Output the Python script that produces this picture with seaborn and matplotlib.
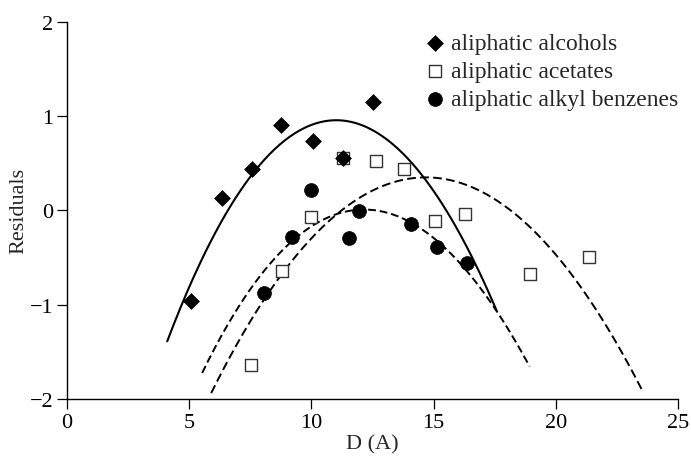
import numpy as np
import matplotlib
matplotlib.use("Agg")
import matplotlib.pyplot as plt
import seaborn as sns

# Points
alcohol_d = [5.08, 6.35, 7.58, 8.77, 10.08, 11.31, 12.54]
alcohol_r = [-0.96, 0.13, 0.44, 0.90, 0.74, 0.55, 1.15]

acetate_d = [7.54, 8.81, 10.0, 11.31, 12.66, 13.8, 15.04, 16.3, 18.93, 21.35]
acetate_r = [-1.64, -0.64, -0.07, 0.55, 0.52, 0.44, -0.11, -0.04, -0.67, -0.49]

benzene_d = [8.07, 9.22, 10.0, 11.56, 11.93, 14.06, 15.16, 16.39]
benzene_r = [-0.88, -0.28, 0.22, -0.29, -0.01, -0.14, -0.39, -0.56]

# Points
alcohol_fit_d = [4.1, 5.12, 5.82, 6.52, 7.34, 8.28, 9.51, 10.86, 11.15, 13.2, 14.71, 15.66, 16.6, 17.42, 17.58]
alcohol_fit_r = [-1.37, -0.80, -0.34, 0.01, 0.30, 0.57, 0.83, 0.96, 0.96, 0.75, 0.33, -0.10, -0.52, -0.97, -1.04]

acetate_fit_d = [5.9, 6.93, 7.87, 8.81, 9.63, 10.45, 11.43, 12.9, 14.43, 17.3, 18.52, 19.9, 21.27, 22.62, 23.57]
acetate_fit_r = [-1.98, -1.44, -0.97, -0.63, -0.38, -0.17, -0.02, 0.24, 0.33, 0.15, -0.10, -0.41, -0.87, -1.44, -1.97]

benzene_fit_d = [5.53, 6.1, 7.17, 8.28, 9.22, 10.6, 11.43, 12.79, 14.0, 15.16, 16.39, 17.58, 18.93]
benzene_fit_r = [-1.72, -1.44, -0.97, -0.59, -0.28, -0.10, 0.01, -0.01, -0.15, -0.39, -0.57, -1.05, -1.68]

labels = ["aliphatic alcohols", "aliphatic acetates", "aliphatic alkyl benzenes"]

sns.set_style("ticks")
plt.rcParams["font.family"] = ["Liberation Serif", "DejaVu Serif"]

fig, ax = plt.subplots(figsize=(6.91, 4.64), dpi=100)
fig.subplots_adjust(left=0.097, right=0.981, bottom=0.138, top=0.951)


def smooth(xs, ys, deg=3):
    # smooth the traced points with a low order polynomial
    coef = np.polyfit(xs, ys, deg)
    xx = np.linspace(min(xs), max(xs), 200)
    return xx, np.polyval(coef, xx)


xx, yy = smooth(alcohol_fit_d, alcohol_fit_r)
sns.lineplot(x=xx, y=yy, ax=ax, color="black", lw=1.5, sort=False)

xx, yy = smooth(acetate_fit_d, acetate_fit_r)
sns.lineplot(x=xx, y=yy, ax=ax, color="black", lw=1.4, sort=False)
ax.lines[-1].set_dashes([4.5, 2.2])

xx, yy = smooth(benzene_fit_d, benzene_fit_r)
sns.lineplot(x=xx, y=yy, ax=ax, color="black", lw=1.4, sort=False)
ax.lines[-1].set_dashes([4.0, 2.0])

# diamonds sit on top of the squares where they overlap
sns.scatterplot(x=alcohol_d, y=alcohol_r, ax=ax, marker="D", s=65,
                color="black", edgecolor="black", linewidth=0.5, label=labels[0], zorder=4)
sns.scatterplot(x=acetate_d, y=acetate_r, ax=ax, marker="s", s=85,
                facecolor="white", edgecolor="#333333", linewidth=1.0, label=labels[1], zorder=3)
sns.scatterplot(x=benzene_d, y=benzene_r, ax=ax, marker="o", s=100,
                color="black", edgecolor="black", linewidth=0.5, label=labels[2], zorder=3)

ax.set_xlim(0, 25)
ax.set_ylim(-2, 2)
ax.set_xticks([0, 5, 10, 15, 20, 25])
ax.set_yticks([-2, -1, 0, 1, 2])
ax.set_yticklabels(["\u22122", "\u22121", "0", "1", "2"])
ax.tick_params(direction="out", length=7, width=0.9, labelsize=16, pad=3, colors="black")
for side in ["left", "bottom"]:
    ax.spines[side].set_linewidth(1.0)
    ax.spines[side].set_color("black")
sns.despine(ax=ax)

ax.set_xlabel("D (A)", fontsize=16, labelpad=2)
ax.set_ylabel("Residuals", fontsize=16)
ax.yaxis.set_label_coords(-0.064, 0.5)

ax.legend(loc="upper left", bbox_to_anchor=(0.588, 0.972), frameon=False,
          fontsize=17, handlelength=0.75, handletextpad=0.3, labelspacing=0.28,
          borderpad=0, borderaxespad=0)

fig.savefig("out.png", dpi=100)
